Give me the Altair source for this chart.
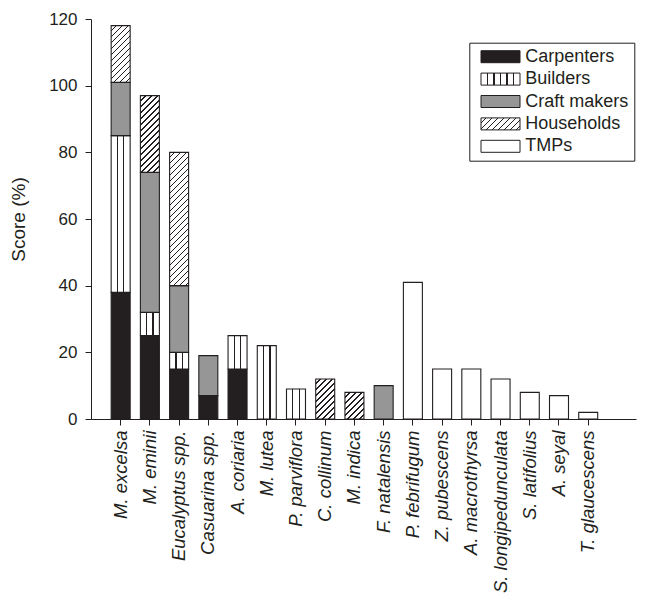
import altair as alt
import pandas as pd

# ---------------- data ----------------
species = ["M. excelsa", "M. eminii", "Eucalyptus spp.", "Casuarina spp.", "A. coriaria",
           "M. lutea", "P. parviflora", "C. collinum", "M. indica", "F. natalensis",
           "P. febrifugum", "Z. pubescens", "A. macrothyrsa", "S. longipedunculata",
           "S. latifolius", "A. seyal", "T. glaucescens"]
categories = ["Carpenters", "Builders", "Craft makers", "Households", "TMPs"]
carpenters = [38, 25, 15, 7, 15, 0, 0, 0, 0, 0, 0, 0, 0, 0, 0, 0, 0]
builders   = [47, 7, 5, 0, 10, 22, 9, 0, 0, 0, 0, 0, 0, 0, 0, 0, 0]
craft      = [16, 42, 20, 12, 0, 0, 0, 0, 0, 10, 0, 0, 0, 0, 0, 0, 0]
households = [17, 23, 40, 0, 0, 0, 0, 12, 8, 0, 0, 0, 0, 0, 0, 0, 0]
tmps       = [0, 0, 0, 0, 0, 0, 0, 0, 0, 0, 41, 15, 15, 12, 8, 7, 2]
y_ticks = [0, 20, 40, 60, 80, 100, 120]

series = [carpenters, builders, craft, households, tmps]
rows = []
for i, sp in enumerate(species):
    for k, cat in enumerate(categories):
        v = series[k][i]
        if v > 0:
            rows.append({"species": sp, "group": cat, "ord": k, "value": v})
df = pd.DataFrame(rows)

# ---------------- layout / style ----------------
W, H, YMAX = 545, 400, 120
PI, PO, ALIGN = 0.35, 1.0, 0.345
n = len(species)
step = W / (n - PI + 2 * PO)
bw = step * (1 - PI)
K = H / YMAX

INK = "#231f20"
GRAY = "#969696"
WHITE = "#ffffff"
FONT = "Liberation Sans"


def js_stops(stops):
    return "[" + ",".join("{offset:%.4f,color:'%s'}" % (o, c) for o, c in stops) + "]"


def vstripe_stops(ncells, lw):
    st = [(0.0, WHITE)]
    for k in range(1, ncells):
        c = k / ncells
        st += [(c - lw / 2, WHITE), (c - lw / 2, INK), (c + lw / 2, INK), (c + lw / 2, WHITE)]
    st.append((1.0, WHITE))
    return st


def hatch_stops(nper, frac):
    st = []
    for i in range(nper):
        a, b, c = i / nper, (i + 1 - frac) / nper, (i + 1) / nper
        st += [(a, WHITE), (b, WHITE), (b, INK), (c, INK)]
    return st


# bars: vertical stripes (Builders) and diagonal hatching (Households)
D = 6.0
NPER = 40
T = D * NPER
bar_vstripe = "{gradient:'linear',x1:0,y1:0,x2:1,y2:0,stops:%s}" % js_stops(vstripe_stops(3, 1.3 / bw))
bw2 = bw * bw
bar_hatch = ("{gradient:'linear',x1:0,y1:0,x2:%.4f*%.1f/(%.4f+datum.h*datum.h),"
             "y2:datum.h*%.1f/(%.4f+datum.h*datum.h),stops:%s}") % (
    bw, T, bw2, T, bw2, js_stops(hatch_stops(NPER, 0.3)))

fill_expr = ("datum.group === 'Carpenters' ? '%s' : datum.group === 'Builders' ? %s : "
             "datum.group === 'Craft makers' ? '%s' : datum.group === 'Households' ? %s : '%s'") % (
    INK, bar_vstripe, GRAY, bar_hatch, WHITE)

# legend symbols (39 x 12 px)
SW, SH = 39.0, 12.0
LN = 10
LT = D * LN
leg_vstripe = "{gradient:'linear',x1:0,y1:0,x2:1,y2:0,stops:%s}" % js_stops(vstripe_stops(6, 1.3 / SW))
leg_hatch = "{gradient:'linear',x1:0,y1:0,x2:%.4f,y2:%.4f,stops:%s}" % (
    SW * LT / (SW * SW + SH * SH), SH * LT / (SW * SW + SH * SH), js_stops(hatch_stops(LN, 0.3)))
legend_range = [INK, {"expr": leg_vstripe}, GRAY, {"expr": leg_hatch}, WHITE]

bars = alt.Chart(df).transform_calculate(
    h="datum.value*%.6f" % K
).transform_calculate(
    fillv=fill_expr
).mark_bar(stroke=INK, strokeWidth=1.1).encode(
    x=alt.X("species:N", sort=species, title=None,
            scale=alt.Scale(paddingInner=PI, paddingOuter=PO, align=ALIGN),
            axis=alt.Axis(labelAngle=-90, labelFontStyle="italic", labelFontSize=18.5,
                          tickSize=6, labelPadding=5, labelAlign="right", labelBaseline="middle")),
    y=alt.Y("value:Q", stack="zero", title="Score (%)",
            scale=alt.Scale(domain=[0, YMAX], nice=False),
            axis=alt.Axis(values=y_ticks, labelFontSize=17, tickSize=6, labelPadding=8,
                          titleFontSize=19, titleFontWeight="normal", titlePadding=20, grid=False)),
    fill=alt.Fill("fillv:N", scale=None, legend=None),
    order=alt.Order("ord:Q", sort="ascending"),
)

legend_layer = alt.Chart(df).transform_filter("false").mark_bar(stroke=INK, strokeWidth=1).encode(
    fill=alt.Fill("group:N",
                  scale=alt.Scale(domain=categories, range=legend_range),
                  legend=alt.Legend(title=None, orient="none", legendX=378.3, legendY=23.7,
                                    padding=5, strokeColor=INK, fillColor=WHITE,
                                    symbolType="M-3.25,-1H3.25V1H-3.25Z", symbolSize=144,
                                    symbolOffset=17.2,
                                    symbolStrokeColor=INK, symbolStrokeWidth=1, symbolOpacity=1,
                                    labelFont=FONT, labelFontSize=18, labelColor=INK,
                                    labelOffset=15.8, rowPadding=4.4, labelLimit=300)),
)

chart = alt.layer(bars, legend_layer).resolve_scale(fill="independent").properties(
    width=W, height=H,
    autosize=alt.AutoSizeParams(type="none"),
    padding={"left": 83, "top": 11, "right": 12, "bottom": 174},
).configure_view(stroke=None).configure_axis(
    labelFont=FONT, titleFont=FONT, labelColor=INK, titleColor=INK,
    domainColor=INK, tickColor=INK, domainWidth=1, tickWidth=1,
)

chart.save("out.html", embed_options={"renderer": "svg", "actions": False})
